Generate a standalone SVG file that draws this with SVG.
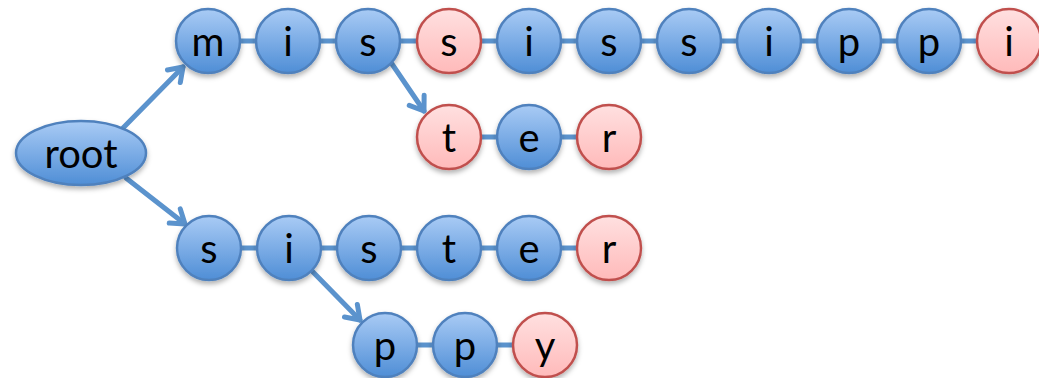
<svg xmlns="http://www.w3.org/2000/svg" width="1039" height="378" viewBox="0 0 1039 378">
  <defs>
    <style>
      .blue { fill: url(#gBlue); stroke: #4f81bd; stroke-width: 2.5; filter: url(#shadow); }
      .red { fill: url(#gRed); stroke: #c0504d; stroke-width: 2.5; filter: url(#shadow); }
      .link { stroke: #5b93cd; stroke-width: 5; fill: none; }
      .arrow { stroke: #5b93cd; stroke-width: 5; fill: none; stroke-linecap: round; marker-end: url(#head); }
      text { font-family: Lato, "Liberation Sans", sans-serif; font-size: 40px; fill: #000; text-anchor: middle; }
    </style>
    <linearGradient id="gBlue" x1="0" y1="0" x2="0" y2="1">
      <stop offset="0" stop-color="#a9cbf5"/>
      <stop offset="1" stop-color="#4f8ed6"/>
    </linearGradient>
    <linearGradient id="gRed" x1="0" y1="0" x2="0" y2="1">
      <stop offset="0" stop-color="#ffe0e0"/>
      <stop offset="1" stop-color="#ffbaba"/>
    </linearGradient>
    <filter id="shadow" x="-30%" y="-30%" width="160%" height="170%">
      <feDropShadow dx="0" dy="3" stdDeviation="2.5" flood-color="#000" flood-opacity="0.3"/>
    </filter>
    <marker id="head" markerUnits="userSpaceOnUse" markerWidth="40" markerHeight="40" viewBox="-20 -20 40 40" refX="0" refY="0" orient="auto">
      <path d="M -13 -9 L 0 0 L -13 9" fill="none" stroke="#5b93cd" stroke-width="5" stroke-linecap="round" stroke-linejoin="round"/>
    </marker>
  </defs>

  <!-- connectors -->
  <g id="connectors">
    <line class="link" x1="208" y1="41" x2="1009" y2="41"/>
    <line class="link" x1="449" y1="137" x2="609" y2="137"/>
    <line class="link" x1="209" y1="248" x2="609" y2="248"/>
    <line class="link" x1="385" y1="345" x2="545" y2="345"/>
    <line class="arrow" x1="122" y1="129" x2="183" y2="67"/>
    <line class="arrow" x1="126" y1="178" x2="185" y2="224"/>
    <line class="arrow" x1="392" y1="64" x2="424" y2="111"/>
    <line class="arrow" x1="312" y1="271" x2="360" y2="320"/>
  </g>

  <!-- root -->
  <g id="root">
    <ellipse class="blue" cx="81" cy="153" rx="65" ry="32"/>
    <text x="81" y="168">root</text>
  </g>

  <!-- mississippi -->
  <g id="n-m"><circle class="blue" cx="208" cy="41" r="32"/><text x="208" y="56">m</text></g>
  <g id="n-mi"><circle class="blue" cx="288" cy="41" r="32"/><text x="288" y="56">i</text></g>
  <g id="n-mis"><circle class="blue" cx="368" cy="41" r="32"/><text x="368" y="56">s</text></g>
  <g id="n-miss"><circle class="red" cx="449" cy="41" r="32"/><text x="449" y="56">s</text></g>
  <g id="n-missi"><circle class="blue" cx="529" cy="41" r="32"/><text x="529" y="56">i</text></g>
  <g id="n-missis"><circle class="blue" cx="609" cy="41" r="32"/><text x="609" y="56">s</text></g>
  <g id="n-mississ"><circle class="blue" cx="689" cy="41" r="32"/><text x="689" y="56">s</text></g>
  <g id="n-mississi"><circle class="blue" cx="769" cy="41" r="32"/><text x="769" y="56">i</text></g>
  <g id="n-mississip"><circle class="blue" cx="849" cy="41" r="32"/><text x="849" y="56">p</text></g>
  <g id="n-mississipp"><circle class="blue" cx="929" cy="41" r="32"/><text x="929" y="56">p</text></g>
  <g id="n-mississippi"><circle class="red" cx="1009" cy="41" r="32"/><text x="1009" y="56">i</text></g>

  <!-- mister -->
  <g id="n-mist"><circle class="red" cx="449" cy="137" r="32"/><text x="449" y="152">t</text></g>
  <g id="n-miste"><circle class="blue" cx="529" cy="137" r="32"/><text x="529" y="152">e</text></g>
  <g id="n-mister"><circle class="red" cx="609" cy="137" r="32"/><text x="609" y="152">r</text></g>

  <!-- sister -->
  <g id="n-s"><circle class="blue" cx="209" cy="248" r="32"/><text x="209" y="263">s</text></g>
  <g id="n-si"><circle class="blue" cx="289" cy="248" r="32"/><text x="289" y="263">i</text></g>
  <g id="n-sis"><circle class="blue" cx="369" cy="248" r="32"/><text x="369" y="263">s</text></g>
  <g id="n-sist"><circle class="blue" cx="449" cy="248" r="32"/><text x="449" y="263">t</text></g>
  <g id="n-siste"><circle class="blue" cx="529" cy="248" r="32"/><text x="529" y="263">e</text></g>
  <g id="n-sister"><circle class="red" cx="609" cy="248" r="32"/><text x="609" y="263">r</text></g>

  <!-- sippy -->
  <g id="n-sip"><circle class="blue" cx="385" cy="345" r="32"/><text x="385" y="360">p</text></g>
  <g id="n-sipp"><circle class="blue" cx="465" cy="345" r="32"/><text x="465" y="360">p</text></g>
  <g id="n-sippy"><circle class="red" cx="545" cy="345" r="32"/><text x="545" y="360">y</text></g>
</svg>
